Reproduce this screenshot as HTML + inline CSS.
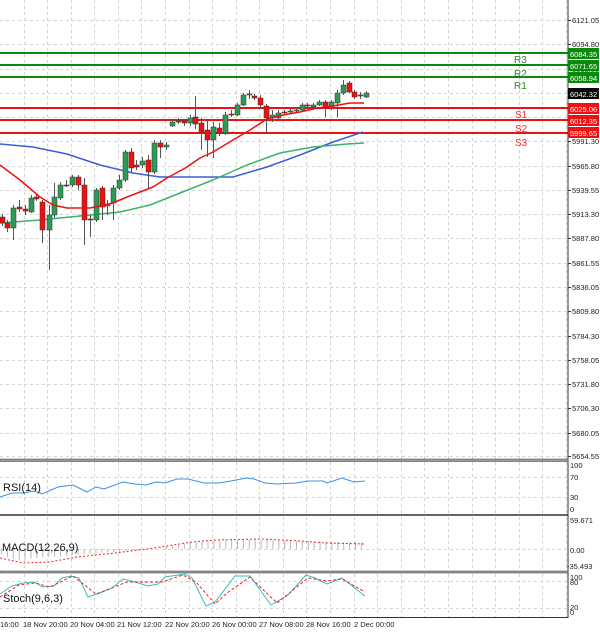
<!DOCTYPE html>
<html><head><meta charset="utf-8"><style>
html,body{margin:0;padding:0;background:#fff;}
svg{display:block;font-family:"Liberation Sans",sans-serif;}
</style></head><body>
<svg id="s" width="600" height="632" xmlns="http://www.w3.org/2000/svg">
<rect width="600" height="632" fill="#fff"/>
<g id="grid" stroke="#d4d4d4" stroke-width="1" stroke-dasharray="3,3"></g>
<g id="hist" stroke="#b8b8b8" stroke-width="1"></g>
<g stroke-width="2">
<line x1="0" y1="53" x2="568" y2="53" stroke="#0a8a0a"/>
<line x1="0" y1="65" x2="568" y2="65" stroke="#0a8a0a"/>
<line x1="0" y1="77" x2="568" y2="77" stroke="#0a8a0a"/>
<line x1="0" y1="108" x2="568" y2="108" stroke="#ee1111"/>
<line x1="0" y1="120" x2="568" y2="120" stroke="#ee1111"/>
<line x1="0" y1="133" x2="568" y2="133" stroke="#ee1111"/>
</g>
<g font-size="10">
<text x="514" y="63" fill="#2a8a2a">R3</text>
<text x="514" y="77" fill="#2a8a2a">R2</text>
<text x="514" y="89" fill="#2a8a2a">R1</text>
<text x="515" y="118" fill="#ee3333">S1</text>
<text x="515" y="132" fill="#ee3333">S2</text>
<text x="515" y="146" fill="#ee3333">S3</text>
</g>
<polyline fill="none" stroke="#3a5fd8" stroke-width="1.5" stroke-linejoin="round" points="0,144 33,147 67,154 100,165 133,173 160,177 200,177 233,177 267,167 300,155 333,142 363,132"/>
<polyline fill="none" stroke="#3cb36a" stroke-width="1.5" stroke-linejoin="round" points="0,223 40,220 80,216 120,212 150,205 180,193 213,180 247,165 280,153 313,147 347,144 364,143"/>
<g id="cand"></g>
<polyline fill="none" stroke="#ee1111" stroke-width="1.5" stroke-linejoin="round" points="0,165 20,180 40,197 53,205 67,208 80,208 90,208 100,206 113,203 127,197 140,192 153,187 167,178 187,167 200,158 213,152 233,140 250,130 267,119 283,115 300,112 317,108 333,106 350,103 364,103"/>
<g fill="none">
<line x1="568" y1="0" x2="568" y2="618" stroke="#333"/>
<rect x="0" y="459" width="568" height="2.5" fill="#9a9a9a" stroke="#555" stroke-width="0.6"/>
<line x1="0" y1="515" x2="568" y2="515" stroke="#333" stroke-width="1.5"/>
<rect x="0" y="571" width="568" height="2" fill="#9a9a9a" stroke="#555" stroke-width="0.6"/>
<line x1="0" y1="617.5" x2="568" y2="617.5" stroke="#333"/>
</g>
<polyline fill="none" stroke="#3d8fe8" stroke-width="1" points="0,497 12,493 23,493 35,491 42,494 58,487 73,485 87,492 96,487 104,489 123,482 135,484 146,485 156,482 165,483 177,479 188,479 204,483 219,483 231,481 246,478 254,479 265,483 277,484 296,483 308,481 323,481 327,483 342,478 354,482 365,481"/>
<polyline fill="none" stroke="#ee2222" stroke-width="1" stroke-dasharray="2,2" points="0,558 23,563 50,562 77,557 115,553 154,548 192,542 215,540 262,539 300,541 327,543 365,544"/>
<polyline fill="none" stroke="#3cbcb8" stroke-width="1" points="0,594 12,586 23,583 35,582 42,587 54,586 62,578 71,576 79,578 88,597 100,593 112,588 123,579 135,582 148,586 158,584 165,577 185,574 192,578 206,606 215,602 235,576 250,576 271,605 288,595 306,575 315,578 327,584 342,578 365,596"/>
<polyline fill="none" stroke="#ee2222" stroke-width="1" stroke-dasharray="3,2" points="0,597 19,585 35,583 50,587 73,576 96,594 127,582 162,582 183,575 196,582 215,604 227,593 250,577 277,603 308,578 327,581 342,579 365,592"/>
<g font-size="11" fill="#111">
<text x="3" y="491">RSI(14)</text>
<text x="2" y="551">MACD(12,26,9)</text>
<text x="3" y="602">Stoch(9,6,3)</text>
</g>
<g id="axis" font-size="7.5" fill="#222"></g>
<rect x="568" y="48" width="31" height="11" fill="#0a8a0a"/><text x="570" y="57" font-size="7.5" fill="#fff">6084.35</text>
<rect x="568" y="60" width="31" height="11" fill="#0a8a0a"/><text x="570" y="69" font-size="7.5" fill="#fff">6071.65</text>
<rect x="568" y="72" width="31" height="11" fill="#0a8a0a"/><text x="570" y="81" font-size="7.5" fill="#fff">6058.94</text>
<rect x="568" y="88" width="31" height="11" fill="#000"/><text x="570" y="97" font-size="7.5" fill="#fff">6042.32</text>
<rect x="568" y="103" width="31" height="11" fill="#ee1111"/><text x="570" y="112" font-size="7.5" fill="#fff">6025.06</text>
<rect x="568" y="115" width="31" height="11" fill="#ee1111"/><text x="570" y="124" font-size="7.5" fill="#fff">6012.35</text>
<rect x="568" y="127" width="31" height="11" fill="#ee1111"/><text x="570" y="136" font-size="7.5" fill="#fff">5999.65</text>
<g font-size="7.5" fill="#222">
<text x="570" y="468">100</text><text x="570" y="480">70</text><text x="570" y="500">30</text><text x="570" y="512">0</text>
<text x="570" y="523">59.671</text><text x="570" y="553">0.00</text><text x="567" y="569">-35.493</text>
<text x="570" y="580">100</text><text x="570" y="585">80</text><text x="570" y="610">20</text><text x="570" y="615">0</text>
</g>
<g font-size="7.5" fill="#222">
<text x="0" y="627">16:00</text><text x="23" y="627">18 Nov 20:00</text><text x="70" y="627">20 Nov 04:00</text>
<text x="117" y="627">21 Nov 12:00</text><text x="165" y="627">22 Nov 20:00</text><text x="212" y="627">26 Nov 00:00</text>
<text x="259" y="627">27 Nov 08:00</text><text x="306" y="627">28 Nov 16:00</text><text x="354" y="627">2 Dec 00:00</text>
</g>
</svg>
<script>
var NS="http://www.w3.org/2000/svg";
function el(p,t,a){var e=document.createElementNS(NS,t);for(var k in a)e.setAttribute(k,a[k]);p.appendChild(e);return e;}
var g=document.getElementById('grid');
for(var x=23.5;x<568;x+=23.58){
 var xx=Math.round(x)+0.5;
 el(g,'line',{x1:xx,y1:0,x2:xx,y2:459});
 el(g,'line',{x1:xx,y1:462,x2:xx,y2:514});
 el(g,'line',{x1:xx,y1:517,x2:xx,y2:571});
 el(g,'line',{x1:xx,y1:574,x2:xx,y2:617});
}
var ax=document.getElementById('axis');
var labs=[["6121.05",20],["6094.80",44],["6068.55",69],["6042.30",93],["6016.05",117],["5991.30",141],["5965.80",166],["5939.55",190],["5913.30",214],["5887.80",238],["5861.55",263],["5836.05",287],["5809.80",311],["5784.30",336],["5758.05",360],["5731.80",384],["5706.30",408],["5680.05",433],["5654.55",456]];
labs.forEach(function(l){var y=l[1]+0.5;
 el(g,'line',{x1:0,y1:y,x2:568,y2:y});
 el(ax,'line',{x1:568,y1:y,x2:571,y2:y,stroke:'#333'});
 var t=el(ax,'text',{x:572,y:l[1]+3});t.textContent=l[0];});
[477,497,549,581,608].forEach(function(y){el(g,'line',{x1:0,y1:y+0.5,x2:568,y2:y+0.5});});
var C=[[0,217,223,214,226],[5,223,228,220,232],[11,228,208,205,240],[17,207,209,200,212],[23,209,211,205,215],[29,212,198,195,213],[34,197,199,194,201],[40,202,230,200,243],[47,230,215,205,270],[52,215,197,183,218],[58,198,185,182,200],[64,185,185,180,187],[70,185,177,175,187],[76,177,185,175,190],[82,185,220,178,245],[88,219,220,215,237],[94,220,190,188,222],[100,188,207,186,220],[105,206,204,200,215],[111,203,188,185,220],[117,188,180,175,190],[123,180,152,150,182],[129,152,168,148,172],[134,165,167,160,170],[140,165,161,157,168],[146,160,172,155,188],[152,172,143,140,174],[158,143,147,140,158],[164,147,145,142,150],[170,126,122,120,127],[176,121,121,118,124],[182,121,123,119,126],[188,123,118,115,126],[193,117,124,96,129],[199,123,132,118,150],[205,130,140,120,157],[211,140,127,122,158],[217,128,133,123,136],[223,133,115,112,135],[229,114,114,110,117],[235,115,105,103,116],[241,105,95,93,106],[247,95,94,90,99],[252,96,98,94,100],[258,98,105,95,109],[264,106,118,104,133],[270,118,115,110,122],[276,118,113,110,120],[282,112,112,110,114],[288,112,111,109,113],[294,111,110,108,113],[300,110,105,103,112],[305,105,105,103,107],[311,107,105,103,110],[317,105,102,100,106],[323,102,108,100,117],[329,108,102,100,110],[335,103,93,90,117],[341,93,85,80,95],[347,83,92,81,93],[352,92,97,90,99],[358,95,95,92,99],[364,97,93,91,98]];
var cg=document.getElementById('cand');
C.forEach(function(c){var x=c[0]+2,up=c[2]<c[1];var top=Math.min(c[1],c[2]),h=Math.max(1,Math.abs(c[1]-c[2]));
 el(cg,'line',{x1:x+0.5,y1:c[3],x2:x+0.5,y2:c[4],stroke:'#555'});
 el(cg,'rect',{x:x-2,y:top,width:5,height:h,fill:up?'#2e9a58':'#ee1111',stroke:'#333','stroke-width':0.5});});
var hg=document.getElementById('hist');
for(var i=0;i<62;i++){var x=i*5.9+1.5;var v;
 if(x<150) v=549+12*(1-x/150)*Math.min(1,x/25+0.4); else v=549-9*Math.sin(Math.min(1,(x-150)/90)*Math.PI/2)+ (x>260? (x-260)/40:0);
 el(hg,'line',{x1:x,y1:549,x2:x,y2:v});}
</script>
</body></html>
